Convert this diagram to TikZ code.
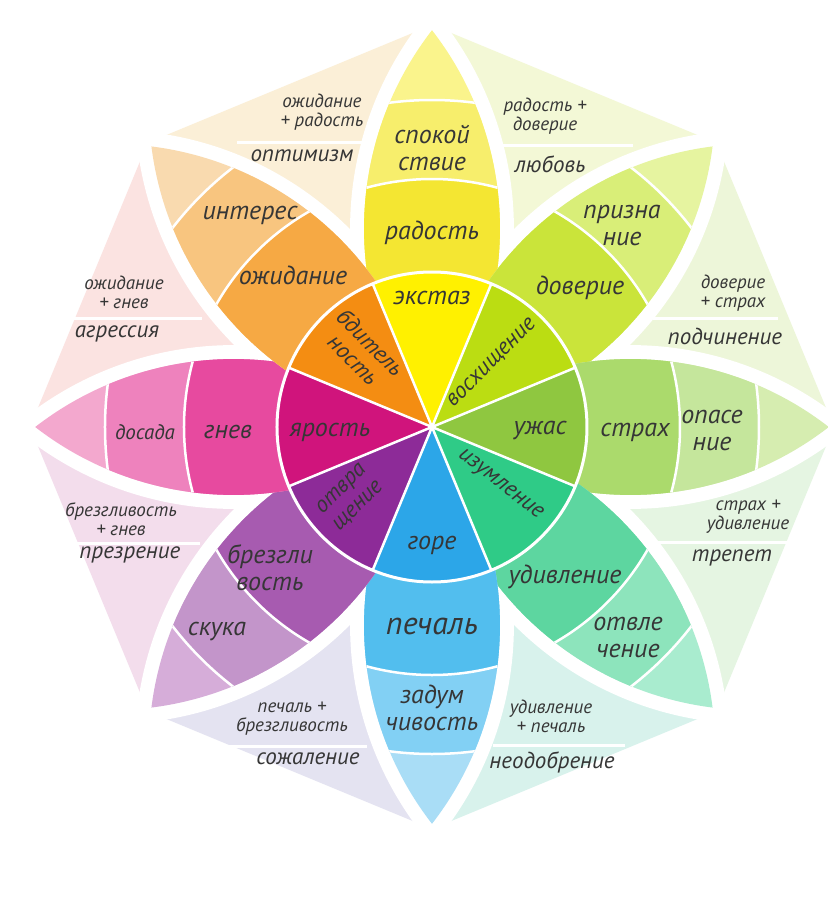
\documentclass[tikz,border=0pt]{standalone}
\usepackage{fontspec}
\setmainfont{PT Sans}
\usepackage{tikz}

% petal colours: tip, outer ring, middle ring, core
\definecolor{ink}{HTML}{363636}
\definecolor{joyA}{HTML}{FAF48C}\definecolor{joyB}{HTML}{F7EE6C}\definecolor{joyC}{HTML}{F4E632}\definecolor{joyD}{HTML}{FFF100}
\definecolor{truA}{HTML}{E6F4A0}\definecolor{truB}{HTML}{D9EE78}\definecolor{truC}{HTML}{CAE43A}\definecolor{truD}{HTML}{BBDD12}
\definecolor{feaA}{HTML}{D6EDB0}\definecolor{feaB}{HTML}{C5E69C}\definecolor{feaC}{HTML}{ABDA6C}\definecolor{feaD}{HTML}{8FC740}
\definecolor{surA}{HTML}{A9ECCF}\definecolor{surB}{HTML}{8DE4BC}\definecolor{surC}{HTML}{5DD6A0}\definecolor{surD}{HTML}{2FCB87}
\definecolor{sadA}{HTML}{A9DDF6}\definecolor{sadB}{HTML}{82D0F4}\definecolor{sadC}{HTML}{52BEEE}\definecolor{sadD}{HTML}{2CA6E8}
\definecolor{disA}{HTML}{D6ADD9}\definecolor{disB}{HTML}{C395CA}\definecolor{disC}{HTML}{A75BB0}\definecolor{disD}{HTML}{8D2B98}
\definecolor{angA}{HTML}{F3A8CE}\definecolor{angB}{HTML}{EE82BD}\definecolor{angC}{HTML}{E74A9F}\definecolor{angD}{HTML}{D0147C}
\definecolor{antA}{HTML}{F9DAAF}\definecolor{antB}{HTML}{F8C57F}\definecolor{antC}{HTML}{F6A944}\definecolor{antD}{HTML}{F48D12}
% pale dyads
\definecolor{optC}{HTML}{FBEFD7}\definecolor{lovC}{HTML}{F3F8D6}\definecolor{subC}{HTML}{EDF6D9}\definecolor{aweC}{HTML}{E5F5E2}
\definecolor{dsaC}{HTML}{D8F2EC}\definecolor{remC}{HTML}{E4E3F1}\definecolor{conC}{HTML}{F3DDEC}\definecolor{aggC}{HTML}{FBE3E1}

\newcommand{\lensp}{(0,0) arc[start angle=127.8,end angle=52.2,radius=323.7] arc[start angle=-52.2,end angle=-127.8,radius=323.7] -- cycle}
\newcommand{\petalgap}[1]{\draw[gap,rotate=#1] \lensp;}
\newcommand{\petal}[4]{%
  \begin{scope}[rotate=#1]
    \clip \lensp;
    \fill[#2] (0,0) circle[radius=410];
    \fill[#3] (0,0) circle[radius=327];
    \fill[#4] (0,0) circle[radius=248];
    \draw[ring] (0,0) circle[radius=327] (0,0) circle[radius=248];
  \end{scope}}
\newcommand{\core}[2]{\fill[#2] (0,0) -- (#1-22.5:155) arc[start angle=#1-22.5,end angle=#1+22.5,radius=155] -- cycle;}

\begin{document}
\begin{tikzpicture}[x=1pt,y=1pt,
  gap/.style={draw=white,line width=28,line join=round},
  ring/.style={white,line width=2.5},
  sep/.style={white,line width=3},
  emo/.style={text=ink,font=\itshape\fontsize{26}{27}\selectfont,align=center,inner sep=0},
  emosmall/.style={emo,font=\itshape\fontsize{21}{22}\selectfont},
  emocore/.style={emo,font=\itshape\fontsize{23}{24}\selectfont},
  mix/.style={text=ink,font=\itshape\fontsize{19}{19}\selectfont,align=center,inner sep=0},
  dyad/.style={text=ink,font=\itshape\fontsize{23}{23}\selectfont,inner sep=0}]
\path[use as bounding box,fill=white] (-432,-479) rectangle (396,427);

% pale octagon pieces
\fill[optC] (0,0) -- (90:402) -- (135:402) -- cycle;
\fill[lovC] (0,0) -- (45:402) -- (90:402) -- cycle;
\fill[subC] (0,0) -- (0:402) -- (45:402) -- cycle;
\fill[aweC] (0,0) -- (-45:402) -- (0:402) -- cycle;
\fill[dsaC] (0,0) -- (-90:402) -- (-45:402) -- cycle;
\fill[remC] (0,0) -- (-135:402) -- (-90:402) -- cycle;
\fill[conC] (0,0) -- (180:402) -- (225:402) -- cycle;
\fill[aggC] (0,0) -- (135:402) -- (180:402) -- cycle;

% petals
\petalgap{90}\petalgap{45}\petalgap{0}\petalgap{-45}
\petalgap{-90}\petalgap{-135}\petalgap{180}\petalgap{135}
\petal{90}{joyA}{joyB}{joyC}
\petal{45}{truA}{truB}{truC}
\petal{0}{feaA}{feaB}{feaC}
\petal{-45}{surA}{surB}{surC}
\petal{-90}{sadA}{sadB}{sadC}
\petal{-135}{disA}{disB}{disC}
\petal{180}{angA}{angB}{angC}
\petal{135}{antA}{antB}{antC}

% centre
\core{90}{joyD}\core{45}{truD}\core{0}{feaD}\core{-45}{surD}
\core{-90}{sadD}\core{-135}{disD}\core{180}{angD}\core{135}{antD}
\draw[ring] (22.5:155) -- (202.5:155) (67.5:155) -- (247.5:155)
  (112.5:155) -- (292.5:155) (157.5:155) -- (337.5:155);
\draw[ring,line width=3] (0,0) circle[radius=155];

% emotions
\node[emo] (ekstaz) at (0,129) {экстаз};
\node[emo] (radost) at (0,194) {радость};
\node[emo] (spokoistvie) at (0,279) {спокой\\ствие};
\node[emocore,rotate=45] (voskhishchenie) at (60,64) {восхищение};
\node[emo] (doverie) at (148,139) {доверие};
\node[emo] (priznanie) at (190,202) {призна\\ние};
\node[emo] (uzhas) at (108,-3) {ужас};
\node[emo] (strakh) at (203,-5) {страх};
\node[emo] (opasenie) at (280,-3) {опасе\\ние};
\node[emocore,rotate=-38] (izumlenie) at (68,-58) {изумление};
\node[emo] (udivlenie) at (133,-150) {удивление};
\node[emo] (otvlechenie) at (196,-210) {отвле\\чение};
\node[emo] (gore) at (0,-118) {горе};
\node[emo,font=\itshape\fontsize{32}{32}\selectfont] (pechal) at (0,-199) {печаль};
\node[emo] (zadumchivost) at (0,-281) {задум\\чивость};
\node[emocore,rotate=45] (otvrashchenie) at (-82,-71) {отвра\\щение};
\node[emo] (brezglivost) at (-162,-141) {брезгли\\вость};
\node[emo] (skuka) at (-215,-204) {скука};
\node[emo] (yarost) at (-102,-5) {ярость};
\node[emo] (gnev) at (-204,-5) {гнев};
\node[emosmall] (dosada) at (-287,-5) {досада};
\node[emocore,rotate=-45] (bditelnost) at (-70,76) {бдитель\\ность};
\node[emo] (ozhidanie) at (-139,152) {ожидание};
\node[emo] (interes) at (-182,212) {интерес};

% dyads
\node[mix] (optmix) at (-110,315) {ожидание\\+ радость};
\draw[sep] (-195,285) -- (-69,285);
\node[dyad] (optimizm) at (-130,271) {оптимизм};
\node[mix] (lovmix) at (113,311) {радость +\\доверие};
\draw[sep] (70,282) -- (201,282);
\node[dyad] (lyubov) at (118,263) {любовь};
\node[mix] (submix) at (301,134) {доверие\\+ страх};
\draw[sep] (221,109) -- (346,109);
\node[dyad] (podchinenie) at (293,91) {подчинение};
\node[mix] (awemix) at (316,-90) {страх +\\удивление};
\draw[sep] (225,-115) -- (361,-115);
\node[dyad] (trepet) at (300,-131) {трепет};
\node[mix] (dsamix) at (119,-289) {удивление\\+ печаль};
\draw[sep] (61,-318) -- (193,-318);
\node[dyad] (neodobrenie) at (120,-335) {неодобрение};
\node[mix] (remmix) at (-140,-292) {печаль +\\брезгливость};
\draw[sep] (-205,-319) -- (-65,-319);
\node[dyad] (sozhalenie) at (-124,-332) {сожаление};
\node[mix] (conmix) at (-311,-92) {брезгливость\\+ гнев};
\draw[sep] (-372,-116) -- (-232,-116);
\node[dyad] (prezrenie) at (-302,-128) {презрение};
\node[mix] (aggmix) at (-308,135) {ожидание\\+ гнев};
\draw[sep] (-375,109) -- (-230,109);
\node[dyad] (agressiya) at (-315,93) {агрессия};
\end{tikzpicture}
\end{document}
